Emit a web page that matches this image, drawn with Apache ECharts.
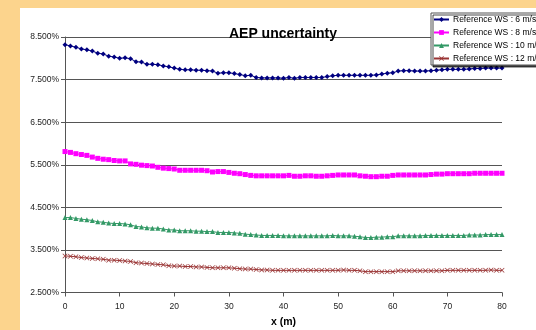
<!DOCTYPE html>
<html>
<head>
<meta charset="utf-8">
<script src="https://cdn.jsdelivr.net/npm/echarts@6/dist/echarts.min.js"></script>
<style>
  html, body { margin: 0; padding: 0; }
  #chart { width: 536px; height: 330px; }
</style>
</head>
<body>
<div id="chart"></div>
<script>
// x (m), one point per metre
const distances = Array.from({ length: 81 }, (_, i) => i);

const seriesNames = [
  "Reference WS : 6 m/s",
  "Reference WS : 8 m/s",
  "Reference WS : 10 m/s",
  "Reference WS : 12 m/s",
];

// AEP uncertainty in %
const ws6 = [
  8.32, 8.29, 8.26, 8.22, 8.20, 8.17, 8.12, 8.10, 8.05, 8.03,
  8.00, 8.01, 7.99, 7.92, 7.91, 7.86, 7.86, 7.85, 7.82, 7.80,
  7.77, 7.74, 7.73, 7.73, 7.72, 7.72, 7.71, 7.70, 7.65, 7.66,
  7.66, 7.64, 7.62, 7.59, 7.60, 7.55, 7.54, 7.54, 7.54, 7.54,
  7.53, 7.55, 7.53, 7.55, 7.55, 7.55, 7.55, 7.55, 7.57, 7.59,
  7.60, 7.60, 7.60, 7.60, 7.60, 7.60, 7.60, 7.61, 7.63, 7.65,
  7.66, 7.70, 7.71, 7.71, 7.70, 7.70, 7.70, 7.71, 7.72, 7.73,
  7.74, 7.74, 7.74, 7.74, 7.75, 7.76, 7.76, 7.77, 7.77, 7.77,
  7.77,
];
const ws8 = [
  5.81, 5.79, 5.76, 5.74, 5.72, 5.68, 5.65, 5.63, 5.62, 5.60,
  5.59, 5.59, 5.52, 5.51, 5.49, 5.48, 5.47, 5.44, 5.42, 5.41,
  5.40, 5.37, 5.37, 5.37, 5.37, 5.37, 5.36, 5.33, 5.34, 5.34,
  5.32, 5.30, 5.29, 5.27, 5.25, 5.24, 5.24, 5.24, 5.24, 5.24,
  5.24, 5.25, 5.23, 5.23, 5.24, 5.24, 5.23, 5.23, 5.24, 5.25,
  5.26, 5.26, 5.26, 5.26, 5.24, 5.23, 5.22, 5.22, 5.23, 5.23,
  5.25, 5.26, 5.26, 5.26, 5.26, 5.26, 5.26, 5.27, 5.28, 5.28,
  5.29, 5.29, 5.29, 5.29, 5.29, 5.30, 5.30, 5.30, 5.30, 5.30,
  5.30,
];
const ws10 = [
  4.26, 4.26, 4.24, 4.22, 4.21, 4.19, 4.16, 4.15, 4.13, 4.12,
  4.12, 4.11, 4.09, 4.05, 4.04, 4.02, 4.01, 4.01, 3.99, 3.97,
  3.97, 3.95, 3.95, 3.95, 3.94, 3.94, 3.93, 3.93, 3.91, 3.91,
  3.91, 3.90, 3.89, 3.87, 3.86, 3.85, 3.84, 3.84, 3.84, 3.84,
  3.83, 3.83, 3.83, 3.83, 3.83, 3.83, 3.83, 3.83, 3.83, 3.84,
  3.83, 3.83, 3.83, 3.82, 3.81, 3.79, 3.79, 3.80, 3.80, 3.81,
  3.81, 3.83, 3.83, 3.83, 3.83, 3.83, 3.84, 3.84, 3.84, 3.84,
  3.84, 3.84, 3.84, 3.84, 3.85, 3.85, 3.85, 3.86, 3.86, 3.86,
  3.86,
];
const ws12 = [
  3.36, 3.35, 3.34, 3.32, 3.31, 3.30, 3.29, 3.28, 3.26, 3.26,
  3.25, 3.24, 3.23, 3.20, 3.19, 3.18, 3.17, 3.16, 3.15, 3.13,
  3.12, 3.12, 3.11, 3.11, 3.10, 3.10, 3.09, 3.08, 3.08, 3.08,
  3.08, 3.07, 3.06, 3.05, 3.05, 3.04, 3.03, 3.03, 3.02, 3.02,
  3.02, 3.02, 3.02, 3.02, 3.02, 3.02, 3.02, 3.02, 3.02, 3.02,
  3.02, 3.03, 3.02, 3.02, 3.01, 2.99, 2.99, 2.99, 2.99, 2.99,
  2.99, 3.01, 3.01, 3.01, 3.01, 3.01, 3.01, 3.01, 3.01, 3.01,
  3.02, 3.02, 3.02, 3.02, 3.02, 3.02, 3.02, 3.02, 3.03, 3.02,
  3.02,
];

const font = 'Arial, "Liberation Sans", sans-serif';
const colors = ["#000080", "#ff00ff", "#339966", "#993333"];
const symbols = [
  "diamond",
  "rect",
  "triangle",
  "path://M0,1L1,0L5,4L9,0L10,1L6,5L10,9L9,10L5,6L1,10L0,9L4,5Z",
];
const symbolSizes = [5, 5, 5, 5];

function makeSeries(name, values, i) {
  return {
    name,
    type: "line",
    data: values.map((v, k) => [distances[k], v]),
    symbol: symbols[i],
    symbolSize: symbolSizes[i],
    showAllSymbol: true,
    lineStyle: { width: 1, color: colors[i] },
    itemStyle: { color: colors[i] },
    emphasis: { disabled: true },
    animation: false,
  };
}

function getOptions() {
  return {
    backgroundColor: "#fcd48d",
    color: colors,
    graphic: [
      {
        type: "rect",
        z: -10,
        silent: true,
        shape: { x: 20, y: 8, width: 520, height: 330 },
        style: { fill: "#ffffff" },
      },
    ],
    title: {
      text: "AEP uncertainty",
      left: 278,
      textAlign: "center",
      top: 22,
      textStyle: { fontFamily: font, fontSize: 14, fontWeight: "bold", color: "#000" },
    },
    legend: {
      orient: "vertical",
      left: 431,
      top: 13,
      padding: [2, 40, 2, 2],
      itemGap: 4,
      itemWidth: 15,
      itemHeight: 6,
      backgroundColor: "#fff",
      borderColor: "#555",
      borderWidth: 1,
      shadowColor: "rgba(0,0,0,0.7)",
      shadowOffsetX: 2,
      shadowOffsetY: 2,
      shadowBlur: 0,
      textStyle: { fontFamily: font, fontSize: 8.5, color: "#000", padding: [0, 0, 0, -1] },
      data: seriesNames,
    },
    grid: { left: 65, right: 34, top: 37, bottom: 37.5, outerBoundsMode: "none", containLabel: false },
    xAxis: {
      type: "value",
      min: 0,
      max: 80,
      interval: 10,
      name: "x (m)",
      nameLocation: "middle",
      nameGap: 24,
      nameTextStyle: { fontFamily: font, fontSize: 10.5, fontWeight: "bold", color: "#000" },
      axisLine: { lineStyle: { color: "#555", width: 1 } },
      axisTick: { length: 4, lineStyle: { color: "#555" } },
      axisLabel: { fontFamily: font, fontSize: 8.5, color: "#222", margin: 10 },
      splitLine: { show: false },
    },
    yAxis: {
      type: "value",
      min: 2.5,
      max: 8.5,
      interval: 1,
      axisLine: { show: true, lineStyle: { color: "#555", width: 1 } },
      axisTick: { show: true, length: 4, lineStyle: { color: "#555" } },
      axisLabel: {
        fontFamily: font,
        fontSize: 8.5,
        color: "#222",
        margin: 6,
        formatter: (v) => v.toFixed(3) + "%",
      },
      splitLine: { lineStyle: { color: "#555", width: 1 } },
    },
    series: [ws6, ws8, ws10, ws12].map((v, i) => makeSeries(seriesNames[i], v, i)),
  };
}

const chart = echarts.init(document.getElementById("chart"));
chart.setOption(getOptions());
</script>
</body>
</html>
